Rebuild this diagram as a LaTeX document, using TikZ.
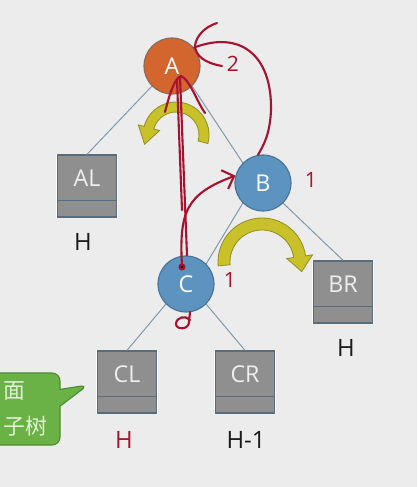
\documentclass[tikz,border=0pt]{standalone}
\usepackage{fontspec}
\setmainfont{Open Sans}
\newfontfamily\cjk{Noto Sans CJK SC}
\usetikzlibrary{arrows.meta,positioning,shapes.callouts,calc}
\definecolor{bg}{HTML}{ECECEC}
\definecolor{rootc}{HTML}{D3652F}
\definecolor{rootedge}{HTML}{8A6A5A}
\definecolor{nodec}{HTML}{5C93BF}
\definecolor{nodeedge}{HTML}{477396}
\definecolor{boxgray}{HTML}{8F8F8F}
\definecolor{boxedge}{HTML}{596C7E}
\definecolor{boxtxt}{HTML}{EEEEEE}
\definecolor{edgeclr}{HTML}{7E99AD}
\definecolor{txt}{HTML}{1A1A1A}
\definecolor{ink}{HTML}{A8122F}
\definecolor{turnfill}{HTML}{C9C12A}
\definecolor{turnedge}{HTML}{968F22}
\definecolor{green}{HTML}{6AB146}
\definecolor{greenedge}{HTML}{4E8C34}
\definecolor{greentxt}{HTML}{E2F0D8}

\begin{document}
\begin{tikzpicture}[
  x=0.025cm, y=-0.025cm,
  tnode/.style={circle, minimum size=1.4cm, inner sep=0pt, line width=0.8pt, text=white, font=\fontsize{16.5}{16.5}\selectfont},
  sub/.style={rectangle, minimum width=1.48cm, minimum height=1.55cm, inner sep=0pt, text height=0.3cm, text depth=0.3cm,
    fill=boxgray, draw=boxedge, line width=0.9pt, text=boxtxt, font=\fontsize{16.5}{16.5}\selectfont,
    preaction={draw=white, line width=2pt},
    path picture={\draw[boxedge, line width=0.9pt] ([yshift=0.42cm]path picture bounding box.south west) -- ([yshift=0.42cm]path picture bounding box.south east);}},
  edge/.style={draw=edgeclr, line width=0.7pt},
  hgt/.style={font=\fontsize{17}{17}\selectfont, text=txt, inner sep=0pt},
  mark1/.style={font=\fontsize{15}{15}\selectfont, text=ink, inner sep=0pt},
  ink/.style={draw=ink, line width=1.5pt, line cap=round, line join=round},
  turn/.style={fill=turnfill, draw=turnedge, line width=0.6pt},
  bubble/.style={rectangle callout, fill=green, draw=greenedge, line width=0.8pt, rounded corners=0.2cm,
    minimum width=2cm, minimum height=1.8cm, callout pointer width=0.42cm},
  bubtxt/.style={font=\cjk\fontsize{15.5}{15.5}\selectfont, text=greentxt, inner sep=0pt},
]

\clip (0,0) rectangle (417,487);
\fill[bg] (0,0) rectangle (417,487);

\node[tnode, fill=rootc, draw=rootedge] (A) at (172,66) {A};
\node[tnode, fill=nodec, draw=nodeedge] (B) at (263,183) {B};
\node[tnode, fill=nodec, draw=nodeedge] (C) at (186,284) {C};

\node[sub] (AL) at (87,186) {AL};
\node[sub] (BR) at (343,292) {BR};
\node[sub] (CL) at (127,382) {CL};
\node[sub] (CR) at (245,382) {CR};

\node[hgt] (hAL) at (83,242) {H};
\node[hgt] (hBR) at (346,348) {H};
\node[hgt, text=ink] (hCL) at (124,440) {H};
\node[hgt] (hCR) at (246,440) {H-1};

\draw[edge] (A.-135) -- (AL.north);
\draw[edge] (A.-45) -- (B.135);
\draw[edge] (B.-135) -- (C.45);
\draw[edge] (B.-45) -- (BR.north);
\draw[edge] (C.-135) -- (CL.north);
\draw[edge] (C.-45) -- (CR.north);

% rotations
\coordinate (ra) at (176,135);
\draw[turn] ($(ra)+(15:33)$) arc[start angle=15, end angle=-165, radius=33]
  -- ($(ra)+(-165:39)$) -- ($(ra)+(-165:28)+(105:17)$) -- ($(ra)+(-165:17)$)
  -- ($(ra)+(-165:23)$) arc[start angle=-165, end angle=15, radius=23] -- cycle;
\coordinate (rb) at (262,262);
\draw[turn] ($(rb)+(175:44)$) arc[start angle=175, end angle=352, radius=44]
  -- ($(rb)+(352:51)$) -- ($(rb)+(352:38)+(82:15)$) -- ($(rb)+(352:25)$)
  -- ($(rb)+(352:32)$) arc[start angle=352, end angle=175, radius=32] -- cycle;

\node[bubble, callout absolute pointer={(88,385)}] (note) at (20,409) {};
\node[bubtxt, anchor=west] (note1) at (3,391) {面};
\node[bubtxt, anchor=west] (note2) at (3,426) {子树};

% handwriting
\node[mark1] (n2) at (233,64) {2};
\node[mark1] (n1b) at (311,180) {1};
\node[mark1] (n1c) at (230,280) {1};
\draw[ink] (217,23) .. controls (205,27) and (197,35) .. (195,45) .. controls (195,56) and (205,63) .. (222,66);
\draw[ink] (A.40) .. controls (240,30) and (272,55) .. (271,110) .. controls (270,135) and (263,146) .. (B.100);
\draw[ink] (165,112) .. controls (170,92) and (175,78) .. (181,76) .. controls (190,80) and (196,100) .. (205,113);
\draw[ink] (180,77) -- (C.88);
\draw[ink] (177,80) -- (182,210);
\draw[ink, -{Straight Barb[length=2.5mm, width=5mm]}] (182,266) .. controls (179,212) and (186,194) .. (B.165);
\fill[ink] (182,267) circle (2.5);
\draw[ink] (190,312) -- (189,322) .. controls (189,330) and (176,330) .. (176,324) .. controls (176,317) and (186,315) .. (190,320);

\end{tikzpicture}
\end{document}
